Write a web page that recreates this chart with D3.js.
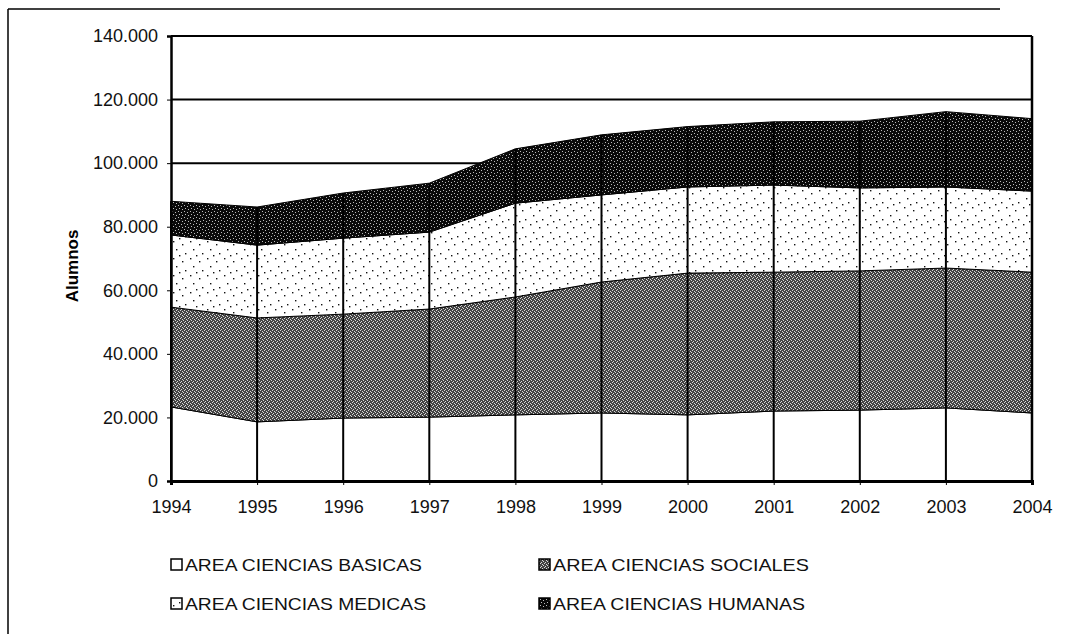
<!DOCTYPE html>
<html>
<head>
<meta charset="utf-8">
<script src="https://cdn.jsdelivr.net/npm/d3@7"></script>
<style>
  body { margin: 0; background: #fff; }
  svg { font-family: "Liberation Sans", Arial, sans-serif; }
</style>
</head>
<body>
<svg id="chart" width="1086" height="634"></svg>
<script>
// data
var years = [1994, 1995, 1996, 1997, 1998, 1999, 2000, 2001, 2002, 2003, 2004];
var basicas  = [23300, 18600, 19800, 20100, 20800, 21400, 20800, 22000, 22300, 23000, 21400];
var sociales = [31400, 32700, 32700, 34000, 37100, 41200, 44600, 43700, 43800, 44000, 44300];
var medicas  = [22700, 22900, 23900, 24200, 29500, 27400, 27100, 27400, 26100, 25500, 25500];
var humanas  = [10600, 12000, 14200, 15400, 17100, 18900, 19000, 19900, 21000, 23700, 22800];
var seriesNames = ["AREA CIENCIAS BASICAS", "AREA CIENCIAS SOCIALES", "AREA CIENCIAS MEDICAS", "AREA CIENCIAS HUMANAS"];
var yTicks = [0, 20000, 40000, 60000, 80000, 100000, 120000, 140000];

function draw_chart()
{
    var svg = d3.select("svg#chart");
    var margin = {top: 36, left: 171},
        width = 1032 - 171,
        height = 481 - 36;

    // scan border (top and left only)
    svg.append("line").attr("x1", 8).attr("x2", 1000).attr("y1", 9).attr("y2", 9)
        .attr("stroke", "#000").attr("stroke-width", 1.5);
    svg.append("line").attr("x1", 8).attr("x2", 8).attr("y1", 9).attr("y2", 634)
        .attr("stroke", "#000").attr("stroke-width", 1.5);

    // fill patterns
    var defs = svg.append("defs");
    var pSoc = defs.append("pattern").attr("id", "pSoc").attr("patternUnits", "userSpaceOnUse")
        .attr("width", 4).attr("height", 4);
    pSoc.append("rect").attr("width", 4).attr("height", 4).attr("fill", "#444");
    [[0,0],[2,1],[1,2],[3,3]].forEach(function(p) {
        pSoc.append("rect").attr("x", p[0]).attr("y", p[1]).attr("width", 1).attr("height", 1).attr("fill", "#d8d8d8");
    });
    var pMed = defs.append("pattern").attr("id", "pMed").attr("patternUnits", "userSpaceOnUse")
        .attr("width", 17).attr("height", 17);
    pMed.append("rect").attr("width", 17).attr("height", 17).attr("fill", "#fff");
    [[2,1],[11,4],[5,9],[14,13],[8,15]].forEach(function(p) {
        pMed.append("rect").attr("x", p[0]).attr("y", p[1]).attr("width", 1.4).attr("height", 1.4).attr("fill", "#111");
    });
    var pHum = defs.append("pattern").attr("id", "pHum").attr("patternUnits", "userSpaceOnUse")
        .attr("width", 6).attr("height", 6);
    pHum.append("rect").attr("width", 6).attr("height", 6).attr("fill", "#0a0a0a");
    [[1,1],[4,2],[2,4],[5,5]].forEach(function(p) {
        pHum.append("rect").attr("x", p[0]).attr("y", p[1]).attr("width", 1).attr("height", 1).attr("fill", "#bbb");
    });
    var fills = ["#ffffff", "url(#pSoc)", "url(#pMed)", "url(#pHum)"];

    var g = svg.append("g")
        .attr("transform", "translate(" + margin.left + "," + margin.top + ")");

    var x = d3.scaleLinear().domain([1994, 2004]).range([0, width]);
    var y = d3.scaleLinear().domain([0, 140000]).range([height, 0]);

    var loc = d3.formatLocale({decimal: ",", thousands: ".", grouping: [3], currency: ["", ""]});
    var fmt = loc.format(",");

    // gridlines behind areas
    g.append("g").selectAll("line").data(yTicks).enter().append("line")
        .attr("x1", 0).attr("x2", width)
        .attr("y1", function(d) { return y(d); }).attr("y2", function(d) { return y(d); })
        .attr("stroke", "#000").attr("stroke-width", 2);

    // stacked areas
    var table = years.map(function(yr, i) {
        return {year: yr, s0: basicas[i], s1: sociales[i], s2: medicas[i], s3: humanas[i]};
    });
    var stack = d3.stack().keys(["s0", "s1", "s2", "s3"]);
    var layers = stack(table);
    var area = d3.area()
        .x(function(d) { return x(d.data.year); })
        .y0(function(d) { return y(d[0]); })
        .y1(function(d) { return y(d[1]); });
    g.append("g").selectAll("path").data(layers).enter().append("path")
        .attr("d", area)
        .attr("fill", function(d, i) { return fills[i]; })
        .attr("stroke", "#000").attr("stroke-width", 1);

    // drop lines at each year
    var top = layers[3];
    g.append("g").selectAll("line").data(top).enter().append("line")
        .attr("x1", function(d) { return x(d.data.year); })
        .attr("x2", function(d) { return x(d.data.year); })
        .attr("y1", height).attr("y2", function(d) { return y(d[1]); })
        .attr("stroke", "#000").attr("stroke-width", 2);

    // right frame
    g.append("line").attr("x1", width).attr("x2", width).attr("y1", 0).attr("y2", height)
        .attr("stroke", "#000").attr("stroke-width", 2.5);

    // axes
    var yAxis = g.append("g")
        .call(d3.axisLeft(y).tickValues(yTicks).tickFormat(function(d) { return d === 0 ? "0" : fmt(d); })
            .tickSize(4).tickPadding(9));
    yAxis.select(".domain").attr("stroke-width", 2.5);
    yAxis.selectAll("text").attr("font-size", "18px").attr("fill", "#111");

    var xAxis = g.append("g").attr("transform", "translate(0," + height + ")")
        .call(d3.axisBottom(x).tickValues(years).tickFormat(d3.format("d")).tickSize(4).tickPadding(15));
    xAxis.select(".domain").attr("stroke-width", 3);
    xAxis.selectAll("text").attr("font-size", "18px").attr("fill", "#111");

    // y title
    svg.append("text")
        .attr("transform", "translate(72,266)rotate(-90)")
        .attr("text-anchor", "middle")
        .attr("dy", "0.35em")
        .attr("font-size", "17px").attr("font-weight", "bold")
        .text("Alumnos");

    // legend
    var legPos = [[171, 565], [539, 565], [171, 604], [539, 604]];
    var legLen = [237, 256, 241, 252];
    var leg = svg.append("g").selectAll("g").data(seriesNames).enter().append("g")
        .attr("transform", function(d, i) { return "translate(" + legPos[i][0] + "," + legPos[i][1] + ")"; });
    leg.append("rect").attr("x", 0).attr("y", -6).attr("width", 11).attr("height", 11)
        .attr("fill", function(d, i) { return fills[i]; })
        .attr("stroke", "#000").attr("stroke-width", 1.5);
    leg.append("text").attr("x", 14).attr("y", 0).attr("dy", "0.35em")
        .attr("font-size", "17px").attr("fill", "#111")
        .attr("textLength", function(d, i) { return legLen[i]; })
        .attr("lengthAdjust", "spacingAndGlyphs")
        .text(function(d) { return d; });
}

draw_chart();
</script>
</body>
</html>
